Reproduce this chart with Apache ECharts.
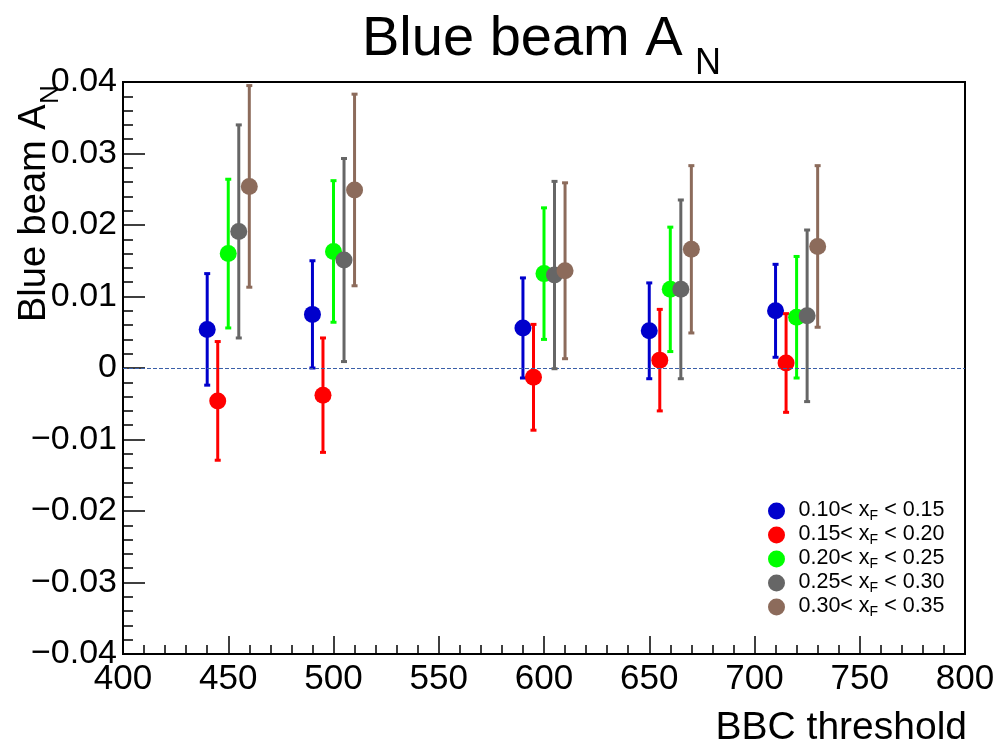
<!DOCTYPE html>
<html>
<head>
<meta charset="utf-8">
<title>Blue beam AN</title>
<script src="https://cdn.jsdelivr.net/npm/echarts@6/dist/echarts.min.js"></script>
<style>
  html, body { margin: 0; padding: 0; background: #fff; }
  #chart { width: 1000px; height: 745px; }
</style>
</head>
<body>
<div id="chart"></div>
<script>
// x positions (BBC threshold, each bin shifted a little so the points don't overlap)
const xBin1 = [440, 490, 590, 650, 710];
const xBin2 = [445, 495, 595, 655, 715];
const xBin3 = [450, 500, 600, 660, 720];
const xBin4 = [455, 505, 605, 665, 725];
const xBin5 = [460, 510, 610, 670, 730];

// A_N values and errors
const anBin1 = [0.0054, 0.0075, 0.0056, 0.0052, 0.0080];
const errBin1 = [0.0078, 0.0075, 0.0070, 0.0067, 0.0065];
const anBin2 = [-0.0046, -0.0038, -0.0013, 0.0011, 0.0007];
const errBin2 = [0.0083, 0.0080, 0.0074, 0.0071, 0.0069];
const anBin3 = [0.0160, 0.0163, 0.0132, 0.0110, 0.0071];
const errBin3 = [0.0104, 0.0099, 0.0092, 0.0087, 0.0085];
const anBin4 = [0.0191, 0.0151, 0.0130, 0.0110, 0.0073];
const errBin4 = [0.0149, 0.0142, 0.0131, 0.0125, 0.0120];
const anBin5 = [0.0254, 0.0249, 0.0136, 0.0166, 0.0170];
const errBin5 = [0.0141, 0.0134, 0.0123, 0.0117, 0.0113];

const binLow = ['0.10', '0.15', '0.20', '0.25', '0.30'];
const binHigh = ['0.15', '0.20', '0.25', '0.30', '0.35'];
const binColors = ['#0000cc', '#ff0000', '#00ff00', '#666666', '#8c6b5b'];

const xTicks = { min: 400, max: 800, interval: 50 };
const yTicks = { min: -0.04, max: 0.04, interval: 0.01 };

const FONT = "'Liberation Sans', Arial, Helvetica, sans-serif";

const bins = [
  [xBin1, anBin1, errBin1],
  [xBin2, anBin2, errBin2],
  [xBin3, anBin3, errBin3],
  [xBin4, anBin4, errBin4],
  [xBin5, anBin5, errBin5]
];

const names = binLow.map((lo, i) => lo + '< xF < ' + binHigh[i]);

// error bars with little caps
function errorBars(name, xs, ys, es, color, z) {
  return {
    name: name,
    type: 'custom',
    z: z,
    silent: true,
    itemStyle: { color: color },
    data: xs.map((x, i) => [x, ys[i] - es[i], ys[i] + es[i]]),
    encode: { x: 0, y: [1, 2] },
    renderItem: function (params, api) {
      const lo = api.coord([api.value(0), api.value(1)]);
      const hi = api.coord([api.value(0), api.value(2)]);
      const st = { stroke: color, lineWidth: 3 };
      return {
        type: 'group',
        children: [
          { type: 'line', shape: { x1: lo[0], y1: lo[1], x2: hi[0], y2: hi[1] }, style: st },
          { type: 'line', shape: { x1: lo[0] - 3, y1: lo[1], x2: lo[0] + 3, y2: lo[1] }, style: st },
          { type: 'line', shape: { x1: hi[0] - 3, y1: hi[1], x2: hi[0] + 3, y2: hi[1] }, style: st }
        ]
      };
    }
  };
}

const series = [];
bins.forEach((b, i) => {
  series.push(errorBars(names[i], b[0], b[1], b[2], binColors[i], 2 + i));
  const sc = {
    name: names[i],
    type: 'scatter',
    z: 2 + i,
    symbol: 'circle',
    symbolSize: 17,
    itemStyle: { color: binColors[i], opacity: 1 },
    data: b[0].map((x, k) => [x, b[1][k]])
  };
  if (i === 0) {
    // dashed line at zero
    sc.markLine = {
      silent: true,
      symbol: 'none',
      label: { show: false },
      lineStyle: { color: '#3a5fa8', type: [4, 2], width: 1 },
      data: [{ yAxis: 0 }]
    };
  }
  series.push(sc);
});

function yLabel(v) {
  if (Math.abs(v) < 1e-9) return '0';
  return (v < 0 ? '\u2212' : '') + Math.abs(v).toFixed(2);
}

const chart = echarts.init(document.getElementById('chart'));
chart.setOption({
  animation: false,
  textStyle: { fontFamily: FONT },
  grid: {
    left: 123, right: 35, top: 82, bottom: 91,
    show: true, borderColor: '#000', borderWidth: 2
  },
  xAxis: {
    type: 'value',
    min: xTicks.min, max: xTicks.max, interval: xTicks.interval,
    axisLine: { onZero: false, lineStyle: { color: '#000', width: 2 } },
    axisTick: { inside: true, length: 18, lineStyle: { color: '#000', width: 1.5 } },
    minorTick: { show: true, splitNumber: 5, length: 9, lineStyle: { color: '#000', width: 1.5 } },
    splitLine: { show: false },
    axisLabel: {
      color: '#000', fontSize: 35, fontFamily: FONT, margin: 8,
      showMinLabel: true, showMaxLabel: true
    }
  },
  yAxis: {
    type: 'value',
    min: yTicks.min, max: yTicks.max, interval: yTicks.interval,
    axisLine: { onZero: false, lineStyle: { color: '#000', width: 2 } },
    axisTick: { inside: true, length: 22, lineStyle: { color: '#000', width: 1.5 } },
    minorTick: { show: true, splitNumber: 5, length: 10, lineStyle: { color: '#000', width: 1.5 } },
    splitLine: { show: false },
    axisLabel: {
      color: '#000', fontSize: 34, fontFamily: FONT, margin: 6,
      formatter: yLabel, showMinLabel: true, showMaxLabel: true
    }
  },
  legend: {
    orient: 'vertical',
    left: 763, top: 494,
    itemWidth: 34, itemHeight: 17, itemGap: 0,
    icon: 'circle',
    data: names,
    formatter: function (name) {
      const i = names.indexOf(name);
      return '{a|' + binLow[i] + '< x}{s|F}{a| < ' + binHigh[i] + '}';
    },
    textStyle: {
      color: '#000',
      rich: {
        a: { fontSize: 21.5, fontFamily: FONT, color: '#000', verticalAlign: 'top' },
        s: { fontSize: 14, fontFamily: FONT, color: '#000', verticalAlign: 'bottom', padding: [10, 0, 0, 0] }
      }
    }
  },
  graphic: [
    {
      type: 'text', x: 362, y: 40, silent: true,
      style: { text: 'Blue beam A', font: '56px ' + FONT, fill: '#000', align: 'left', verticalAlign: 'middle' }
    },
    {
      type: 'text', x: 695, y: 64, silent: true,
      style: { text: 'N', font: '36px ' + FONT, fill: '#000', align: 'left', verticalAlign: 'middle' }
    },
    {
      type: 'group', x: 48, y: 322, rotation: Math.PI / 2, silent: true,
      children: [
        { type: 'text', x: 0, y: -13, style: { text: 'Blue beam A', font: '38px ' + FONT, fill: '#000', align: 'left', verticalAlign: 'middle' } },
        { type: 'text', x: 218, y: 3, style: { text: 'N', font: '26px ' + FONT, fill: '#000', align: 'left', verticalAlign: 'middle' } }
      ]
    },
    {
      type: 'text', x: 967, y: 728, silent: true,
      style: { text: 'BBC threshold', font: '39px ' + FONT, fill: '#000', align: 'right', verticalAlign: 'middle' }
    }
  ],
  series: series
});
</script>
</body>
</html>
